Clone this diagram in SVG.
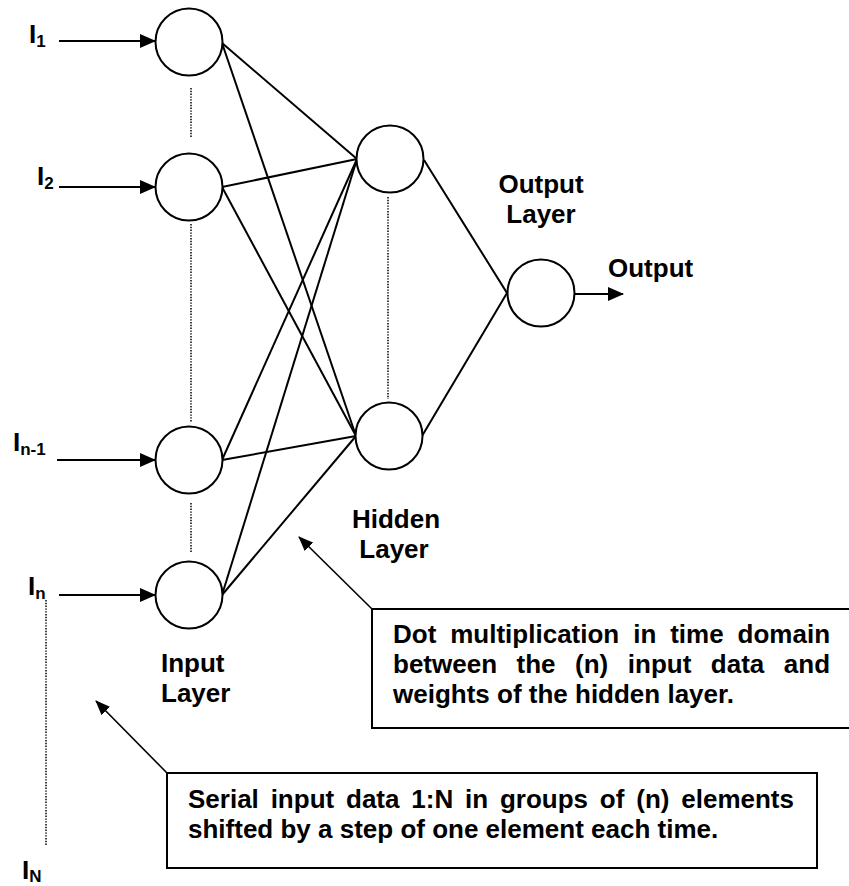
<svg xmlns="http://www.w3.org/2000/svg" width="849" height="886" viewBox="0 0 849 886">
<style>
.t{font-family:"Liberation Sans",Arial,sans-serif;font-weight:bold;font-size:26px;fill:#000}
.sub{font-size:17px}
.node{fill:#fff;stroke:#000;stroke-width:2}
.edge{stroke:#000;stroke-width:2;fill:none}
.dot{stroke:#000;stroke-width:1.5;stroke-dasharray:1.4 1.4;fill:none}
.box{fill:#fff;stroke:#000;stroke-width:2}
.ann{stroke:#000;stroke-width:1.6;fill:none}
</style>
<defs>
<marker id="ah" markerWidth="16" markerHeight="14" refX="15" refY="7" orient="auto" markerUnits="userSpaceOnUse">
<path d="M0,0 L16,7 L0,14 z" fill="#000"/>
</marker>
<marker id="ah2" markerWidth="15" markerHeight="12" refX="14" refY="6" orient="auto" markerUnits="userSpaceOnUse">
<path d="M0,0 L15,6 L0,12 z" fill="#000"/>
</marker>
</defs>

<g id="connectors">
<line class="edge" x1="59" y1="41" x2="155" y2="41" marker-end="url(#ah)"/>
<line class="edge" x1="59" y1="187" x2="155" y2="187" marker-end="url(#ah)"/>
<line class="edge" x1="57" y1="460" x2="155" y2="460" marker-end="url(#ah)"/>
<line class="edge" x1="59" y1="595" x2="155" y2="595" marker-end="url(#ah)"/>

<line class="edge" x1="222" y1="43" x2="357" y2="159"/>
<line class="edge" x1="222" y1="43" x2="356" y2="436"/>
<line class="edge" x1="222" y1="187" x2="357" y2="159"/>
<line class="edge" x1="222" y1="187" x2="356" y2="436"/>
<line class="edge" x1="222" y1="460" x2="357" y2="159"/>
<line class="edge" x1="222" y1="460" x2="356" y2="436"/>
<line class="edge" x1="222" y1="595" x2="357" y2="159"/>
<line class="edge" x1="222" y1="595" x2="356" y2="436"/>

<line class="edge" x1="424" y1="160" x2="507" y2="293"/>
<line class="edge" x1="422" y1="436" x2="507" y2="293"/>
<line class="edge" x1="575" y1="294" x2="623" y2="294" marker-end="url(#ah)"/>

<line class="dot" x1="191" y1="88" x2="191" y2="138"/>
<line class="dot" x1="191" y1="224" x2="191" y2="422"/>
<line class="dot" x1="191" y1="503" x2="191" y2="552"/>
<line class="dot" x1="388" y1="197" x2="388" y2="399"/>
<line class="dot" x1="46" y1="600" x2="46" y2="846"/>

<line class="ann" x1="372" y1="609" x2="299" y2="537" marker-end="url(#ah2)"/>
<line class="ann" x1="167" y1="773" x2="96" y2="701" marker-end="url(#ah2)"/>
</g>

<g id="in1"><circle class="node" cx="189" cy="42" r="33.5"/></g>
<g id="in2"><circle class="node" cx="189" cy="187" r="33.5"/></g>
<g id="inn1"><circle class="node" cx="189" cy="460" r="33.5"/></g>
<g id="inn"><circle class="node" cx="189" cy="595" r="33.5"/></g>
<g id="hid1"><circle class="node" cx="390" cy="159" r="33.5"/></g>
<g id="hid2"><circle class="node" cx="389" cy="436" r="33.5"/></g>
<g id="out"><circle class="node" cx="541" cy="293" r="33.5"/></g>

<g id="labels">
<text class="t" x="29" y="43">I<tspan class="sub" dy="4">1</tspan></text>
<text class="t" x="37" y="185">I<tspan class="sub" dy="4">2</tspan></text>
<text class="t" x="13" y="451">I<tspan class="sub" dy="4">n-1</tspan></text>
<text class="t" x="28" y="595">I<tspan class="sub" dy="4">n</tspan></text>
<text class="t" x="22" y="879">I<tspan class="sub" dy="3">N</tspan></text>

<text class="t" x="541" y="193" text-anchor="middle">Output</text>
<text class="t" x="541" y="223" text-anchor="middle">Layer</text>
<text class="t" x="608" y="277">Output</text>
<text class="t" x="396" y="528" text-anchor="middle">Hidden</text>
<text class="t" x="394" y="558" text-anchor="middle">Layer</text>
<text class="t" x="161" y="672">Input</text>
<text class="t" x="161" y="702">Layer</text>
</g>

<g id="note1">
<rect class="box" x="372" y="609" width="490" height="119"/>
<text class="t" x="393" y="643" word-spacing="6.7">Dot multiplication in time domain</text>
<text class="t" x="393" y="673" word-spacing="12.3">between the (n) input data and</text>
<text class="t" x="393" y="703">weights of the hidden layer.</text>
</g>

<g id="note2">
<rect class="box" x="167" y="773" width="650" height="95"/>
<text class="t" x="188" y="808" word-spacing="4.6">Serial input data 1:N in groups of (n) elements</text>
<text class="t" x="188" y="838">shifted by a step of one element each time.</text>
</g>
</svg>
